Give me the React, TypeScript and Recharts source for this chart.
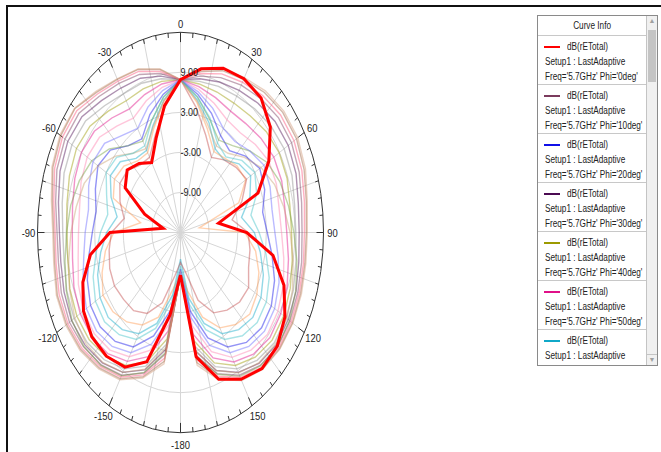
import React from "react";
import { RadarChart, Radar, PolarGrid, PolarAngleAxis, PolarRadiusAxis } from "recharts";

// theta in degrees, clockwise from the top
const THETA = [
  0, 10, 20, 30, 40, 50, 60, 70, 80, 90, 100, 110, 120, 130, 140, 150, 160, 170, 180,
  -170, -160, -150, -140, -130, -120, -110, -100, -90, -80, -70, -60, -50, -40, -30, -20, -10,
];

// dB(rETotal), one array per phi cut (same order as THETA)
const PHI_0 = [7.9, 9.9, 11.2, 11.6, 11.3, 9.6, 6.4, 2.3, -6.9, -1.1, 4.7, 8.1, 10.3, 11.5, 11.6, 10.4, 8.4, 3.9, -8.6, -2.5, 5.6, 8.3, 9.2, 9.3, 8.5, 6.8, 4.2, -0.2, -11.3, -7.0, -1.6, -0.4, -1.5, -2.9, 0.0, 4.3];
const PHI_10 = [7.9, 8.8, 9.7, 10.5, 11.2, 11.8, 11.9, 11.5, 10.8, 10.5, 10.8, 11.2, 11.5, 11.6, 11.0, 9.7, 7.5, 3.7, -8.6, 3.5, 7.4, 9.7, 10.9, 11.6, 11.9, 11.6, 11.0, 10.9, 11.6, 12.6, 13.0, 12.8, 11.6, 10.8, 10.2, 9.2];
const PHI_20 = [7.9, 6.0, 4.0, 1.8, 1.0, 2.8, 4.2, 3.8, 2.5, 3.2, 4.5, 6.0, 7.0, 7.2, 6.5, 4.8, 1.8, -3.0, -9.5, -3.2, 1.5, 4.8, 6.3, 7.0, 6.8, 5.8, 4.5, 3.5, 3.0, 4.0, 5.0, 4.2, 2.0, 1.2, 3.8, 6.0];
const PHI_30 = [7.9, 8.4, 9.0, 9.6, 10.3, 10.9, 11.1, 10.8, 10.1, 9.9, 10.2, 10.8, 11.1, 11.2, 10.6, 9.2, 7.0, 3.0, -8.6, 2.8, 6.9, 9.2, 10.5, 11.2, 11.4, 11.0, 10.5, 10.4, 11.0, 11.9, 12.3, 12.0, 10.8, 10.0, 9.6, 8.8];
const PHI_40 = [7.9, 7.6, 7.4, 7.4, 7.8, 8.5, 8.9, 8.8, 8.3, 8.3, 8.8, 9.5, 10.0, 10.1, 9.4, 8.0, 5.8, 1.5, -8.6, 1.2, 5.6, 8.0, 9.3, 10.0, 10.1, 9.7, 9.0, 8.8, 9.2, 9.8, 10.2, 9.8, 8.7, 7.8, 7.9, 8.0];
const PHI_50 = [7.9, 7.2, 6.5, 6.0, 6.3, 7.0, 7.6, 7.6, 7.2, 7.3, 8.0, 8.8, 9.3, 9.5, 8.8, 7.4, 5.0, 0.5, -8.6, 0.0, 4.8, 7.3, 8.7, 9.3, 9.3, 8.8, 8.0, 7.7, 8.0, 8.6, 9.0, 8.6, 7.4, 6.4, 7.0, 7.6];
const PHI_60 = [7.9, 5.2, 2.5, -0.5, -0.8, 1.0, 2.0, 0.5, -2.0, 0.5, 2.0, 3.5, 4.5, 4.8, 4.0, 2.5, -0.5, -5.0, -11.0, -5.5, -0.5, 2.5, 4.0, 4.8, 4.5, 3.5, 2.0, 0.5, -1.5, 0.5, 2.0, 1.5, -0.5, -0.8, 2.0, 5.2];
const PHI_70 = [7.9, 4.8, 1.5, -1.0, -0.5, 0.5, 0.8, -2.0, -11.0, -1.5, 1.0, 2.5, 3.5, 4.0, 3.0, 1.5, -1.5, -6.0, -9.0, -6.5, -1.5, 1.0, 2.5, 3.5, 3.8, 2.5, 1.0, -1.0, -6.5, 0.0, 1.0, 0.5, -1.0, -1.2, 1.5, 5.0];
const PHI_80 = [7.9, 9.5, 10.8, 11.5, 12.4, 13.0, 13.1, 12.6, 11.8, 11.4, 11.5, 11.8, 12.1, 12.1, 11.7, 10.4, 8.2, 4.8, -8.6, 4.6, 8.0, 10.3, 11.5, 12.3, 12.6, 12.5, 11.8, 11.6, 12.3, 13.5, 14.0, 13.9, 12.4, 11.5, 11.0, 9.8];
const PHI_90 = [7.9, 6.8, 5.6, 4.5, 4.5, 5.5, 6.4, 6.4, 6.0, 6.2, 7.0, 8.0, 8.6, 8.8, 8.0, 6.6, 4.0, -0.8, -8.8, -1.0, 3.8, 6.5, 8.0, 8.6, 8.5, 7.8, 6.8, 6.4, 6.5, 7.2, 7.6, 7.2, 5.8, 4.8, 6.0, 7.1];
const PHI_100 = [7.9, 8.0, 8.3, 8.6, 9.2, 9.8, 10.1, 9.9, 9.3, 9.2, 9.6, 10.2, 10.6, 10.7, 10.0, 8.6, 6.4, 2.3, -8.6, 2.0, 6.3, 8.6, 9.9, 10.6, 10.8, 10.4, 9.8, 9.7, 10.2, 11.0, 11.3, 11.0, 9.8, 9.0, 8.8, 8.4];
const PHI_110 = [7.9, 5.6, 3.0, 1.0, 2.0, 4.0, 6.0, 7.2, 8.0, 8.8, 9.8, 10.7, 11.4, 11.6, 11.1, 9.9, 7.6, 3.8, -8.6, 3.3, 7.3, 9.8, 11.0, 11.5, 11.3, 10.5, 9.6, 8.9, 8.4, 7.6, 6.5, 4.5, 2.0, 0.8, 2.8, 5.6];
const PHI_120 = [7.9, 4.0, 0.5, -2.0, -0.8, 0.2, 1.0, -1.3, -4.0, -0.8, -0.2, 0.2, 1.5, 1.2, 0.2, -1.1, -4.2, -9.0, -10.5, -8.5, -3.8, -1.0, 0.3, 0.6, 1.0, 0.8, 0.2, -0.5, -3.0, -1.5, -0.3, -0.5, -1.8, -2.0, 0.5, 4.0];
const PHI_130 = [7.9, 6.4, 4.8, 3.0, 2.8, 4.0, 5.2, 5.0, 4.5, 4.8, 5.8, 7.0, 7.8, 8.0, 7.3, 5.8, 3.0, -2.0, -9.0, -2.0, 2.8, 5.8, 7.3, 8.0, 7.8, 6.8, 5.6, 5.0, 4.6, 5.5, 6.2, 5.8, 4.0, 3.0, 5.0, 6.6];
const PHI_140 = [7.9, 5.0, 2.0, 0.0, 0.5, 2.5, 4.5, 6.0, 7.0, 8.0, 9.0, 10.0, 10.8, 11.0, 10.5, 9.3, 7.0, 3.0, -8.6, 2.5, 6.8, 9.2, 10.4, 10.9, 10.6, 9.8, 8.8, 8.0, 7.2, 6.5, 5.0, 2.8, 0.5, -0.5, 1.8, 5.0];
const PHI_150 = [7.9, 9.2, 10.3, 11.0, 11.8, 12.4, 12.5, 12.1, 11.4, 11.0, 11.2, 11.5, 11.8, 11.9, 11.4, 10.1, 7.9, 4.3, -8.6, 4.1, 7.7, 10.0, 11.2, 12.0, 12.3, 12.1, 11.5, 11.3, 12.0, 13.1, 13.6, 13.4, 12.1, 11.2, 10.7, 9.5];
const PHI_160 = [7.9, 5.6, 3.2, 0.5, -0.2, 1.8, 3.0, 2.0, 0.0, 1.5, 3.2, 4.8, 5.8, 6.0, 5.2, 3.5, 0.5, -4.0, -10.0, -4.5, 0.3, 3.5, 5.0, 5.8, 5.6, 4.5, 3.0, 1.8, 0.5, 1.5, 3.0, 2.5, 0.5, 0.0, 2.8, 5.6];
const PHI_170 = [7.9, 9.8, 11.0, 11.8, 12.7, 13.3, 13.4, 12.9, 12.0, 11.6, 11.7, 12.0, 12.2, 12.2, 11.8, 10.6, 8.5, 5.2, -8.6, 5.0, 8.2, 10.5, 11.7, 12.5, 12.8, 12.7, 12.0, 11.8, 12.5, 13.7, 14.2, 14.0, 12.6, 11.6, 11.1, 9.9];

// outer ring: a tick every 5 deg, labels every 30 deg
const ANGLE_TICKS = [
  0, 5, 10, 15, 20, 25, 30, 35, 40, 45, 50, 55, 60, 65, 70, 75, 80, 85, 90, 95, 100, 105, 110, 115,
  120, 125, 130, 135, 140, 145, 150, 155, 160, 165, 170, 175, 180, -175, -170, -165, -160, -155, -150,
  -145, -140, -135, -130, -125, -120, -115, -110, -105, -100, -95, -90, -85, -80, -75, -70, -65, -60,
  -55, -50, -45, -40, -35, -30, -25, -20, -15, -10, -5,
];
const RADIUS_TICKS = [-9, -3, 3, 9];
const SPOKE_ANGLES = [0, 15, 30, 45, 60, 75, 90, 105, 120, 135, 150, 165, 180, 195, 210, 225, 240, 255, 270, 285, 300, 315, 330, 345];

const SERIES = [
  { key: "phi10", phi: 10, values: PHI_10, color: "#7b3b5d" },
  { key: "phi20", phi: 20, values: PHI_20, color: "#1010e8" },
  { key: "phi30", phi: 30, values: PHI_30, color: "#4b0a52" },
  { key: "phi40", phi: 40, values: PHI_40, color: "#9c9a00" },
  { key: "phi50", phi: 50, values: PHI_50, color: "#e01088" },
  { key: "phi60", phi: 60, values: PHI_60, color: "#10a8c8" },
  { key: "phi70", phi: 70, values: PHI_70, color: "#ff9a50" },
  { key: "phi80", phi: 80, values: PHI_80, color: "#9a6040" },
  { key: "phi90", phi: 90, values: PHI_90, color: "#ff80b0" },
  { key: "phi100", phi: 100, values: PHI_100, color: "#8c8c8c" },
  { key: "phi110", phi: 110, values: PHI_110, color: "#70a040" },
  { key: "phi120", phi: 120, values: PHI_120, color: "#c04848" },
  { key: "phi130", phi: 130, values: PHI_130, color: "#6868ff" },
  { key: "phi140", phi: 140, values: PHI_140, color: "#c8a070" },
  { key: "phi150", phi: 150, values: PHI_150, color: "#ff5078" },
  { key: "phi160", phi: 160, values: PHI_160, color: "#40c0c8" },
  { key: "phi170", phi: 170, values: PHI_170, color: "#d09878" },
];
const MAIN = { key: "phi0", phi: 0, values: PHI_0, color: "#ff0000" };

// legend shows the first rows only (the rest is scrolled away)
const LEGEND_ITEMS = [MAIN, ...SERIES.slice(0, 6)];

const chartData = THETA.map((theta, i) => {
  const row: Record<string, number> = { theta };
  for (const s of [MAIN, ...SERIES]) row[s.key] = s.values[i];
  return row;
});
const frameData = ANGLE_TICKS.map((theta) => ({ theta }));

// chart geometry: a circle of radius R, stretched vertically into an ellipse
const W = 350;
const H = 500;
const CX = 175.5;
const CY = 250.5;
const R = 143;
const SY = 1.4;
const SX_TEXT = 0.82; // no narrow font installed, squeeze text instead
const GRID_RADII = RADIUS_TICKS.map((v) => (R * (v + 15)) / 30);

const FONT = '"Liberation Sans", Arial, sans-serif';

function AngleTick(props: any) {
  const { x, y, payload } = props;
  const v = Number(payload.value);
  const dx = x - CX;
  const dy = y - CY;
  const len = Math.hypot(dx, dy) || 1;
  const ux = dx / len;
  const uy = dy / len;
  const px = CX + ux * R;
  const py = CY + uy * R;
  const major = v % 30 === 0;
  const tl = major ? 7 : 3.5;
  const d = 9 + (uy > 0 ? 2.5 * uy : 0);
  const lx = CX + (R + d) * ux;
  const ly = CY + (R + d / SY) * uy;
  return (
    <g>
      <line x1={px} y1={py} x2={px - ux * tl} y2={py - uy * tl} stroke="#333" strokeWidth={1} />
      {major && (
        <g transform={`translate(${lx},${ly}) scale(${SX_TEXT},${1 / SY})`}>
          <text x={0} y={0} textAnchor="middle" dominantBaseline="central" fontSize={11.5} fontFamily={FONT} fill="#222">
            {v === 180 ? "-180" : String(v)}
          </text>
        </g>
      )}
    </g>
  );
}

function RadiusTick(props: any) {
  const { x, y, payload } = props;
  const v = Number(payload.value);
  if (!RADIUS_TICKS.includes(v)) return <g />;
  return (
    <g transform={`translate(${x},${y}) scale(${SX_TEXT},${1 / SY})`}>
      <text x={0} y={0} textAnchor="start" dominantBaseline="central" fontSize={11} fontFamily={FONT} fill="#222">
        {v.toFixed(2)}
      </text>
    </g>
  );
}

const noMargin = { top: 0, right: 0, bottom: 0, left: 0 };

const squeeze: React.CSSProperties = {
  display: "inline-block",
  whiteSpace: "nowrap",
  transform: `scaleX(${SX_TEXT})`,
  transformOrigin: "0 50%",
};

function Legend() {
  return (
    <div
      style={{
        position: "absolute",
        left: 537,
        top: 15,
        width: 121,
        height: 351,
        border: "1px solid #8a8a8a",
        background: "#fff",
        overflow: "hidden",
        fontFamily: FONT,
        fontSize: 10,
        color: "#222",
        boxSizing: "border-box",
      }}
    >
      <div style={{ position: "absolute", left: 0, top: 0, right: 11 }}>
        <div style={{ height: 20, lineHeight: "19px", textAlign: "center", borderBottom: "1px solid #c8c8c8", boxSizing: "border-box" }}>
          <span style={{ ...squeeze, transformOrigin: "50% 50%" }}>Curve Info</span>
        </div>
        {LEGEND_ITEMS.map((s) => (
          <div key={s.key} style={{ height: 49, borderBottom: "1px solid #c8c8c8", paddingTop: 3, boxSizing: "border-box", whiteSpace: "nowrap" }}>
            <div style={{ height: 15, lineHeight: "15px", display: "flex", alignItems: "center" }}>
              <span style={{ display: "inline-block", width: 16, height: 2, marginLeft: 6, marginRight: 7, background: s.color }} />
              <span style={squeeze}>dB(rETotal)</span>
            </div>
            <div style={{ height: 15, lineHeight: "15px", paddingLeft: 7 }}>
              <span style={squeeze}>Setup1 : LastAdaptive</span>
            </div>
            <div style={{ height: 15, lineHeight: "15px", paddingLeft: 7 }}>
              <span style={squeeze}>{`Freq='5.7GHz' Phi='${s.phi}deg'`}</span>
            </div>
          </div>
        ))}
      </div>
      <div
        style={{
          position: "absolute",
          right: 0,
          top: 0,
          width: 11,
          height: "100%",
          background: "#f0f0f0",
          borderLeft: "1px solid #c4c4c4",
          boxSizing: "border-box",
        }}
      >
        <div style={{ fontSize: 7, color: "#a0a0a0", textAlign: "center", lineHeight: "10px" }}>▲</div>
        <div style={{ position: "absolute", left: 1, top: 14, width: 8, height: 52, background: "#c4c4c4" }} />
        <div style={{ position: "absolute", bottom: 0, width: "100%", fontSize: 7, color: "#a0a0a0", textAlign: "center", lineHeight: "10px", borderTop: "1px solid #c4c4c4" }}>▼</div>
      </div>
    </div>
  );
}

export default function App() {
  return (
    <div style={{ position: "absolute", left: 0, top: 0, width: 661, height: 452, overflow: "hidden", background: "#fff" }}>
      <style>{`
        .polar-stretch svg.recharts-surface > g { transform: scale(1, ${SY}); transform-origin: ${CX}px ${CY}px; }
        .polar-stretch svg path, .polar-stretch svg line, .polar-stretch svg circle { vector-effect: non-scaling-stroke; }
      `}</style>
      <div
        style={{
          position: "absolute",
          left: 6,
          top: 5,
          width: 700,
          height: 500,
          borderTop: "2px solid #111",
          borderLeft: "2px solid #111",
        }}
      />
      <div className="polar-stretch" style={{ position: "absolute", left: 5, top: -18, width: W, height: H }}>
        <div style={{ position: "absolute", left: 0, top: 0 }}>
          <RadarChart width={W} height={H} cx={CX} cy={CY} outerRadius={R} data={frameData} margin={noMargin}>
            <PolarGrid gridType="circle" polarAngles={SPOKE_ANGLES} polarRadius={GRID_RADII} stroke="#d6d6d6" strokeWidth={1} />
            <PolarAngleAxis
              dataKey="theta"
              tick={AngleTick}
              tickLine={false}
              tickSize={0}
              axisLineType="circle"
              stroke="#333"
            />
            <PolarRadiusAxis domain={[-15, 15]} tick={false} axisLine={false} />
          </RadarChart>
        </div>
        <div style={{ position: "absolute", left: 0, top: 0 }}>
          <RadarChart width={W} height={H} cx={CX} cy={CY} outerRadius={R} data={chartData} margin={noMargin}>
            <PolarAngleAxis dataKey="theta" tick={false} tickLine={false} axisLine={false} />
            {SERIES.map((s) => (
              <Radar
                key={s.key}
                dataKey={s.key}
                stroke={s.color}
                strokeWidth={1.4}
                strokeOpacity={0.45}
                fill="none"
                fillOpacity={0}
                dot={false}
                isAnimationActive={false}
              />
            ))}
            <Radar
              dataKey={MAIN.key}
              stroke={MAIN.color}
              strokeWidth={3}
              fill="none"
              fillOpacity={0}
              dot={false}
              isAnimationActive={false}
            />
            <PolarRadiusAxis angle={90} domain={[-15, 15]} tickCount={11} axisLine={false} tick={RadiusTick} />
          </RadarChart>
        </div>
      </div>
      <Legend />
    </div>
  );
}
